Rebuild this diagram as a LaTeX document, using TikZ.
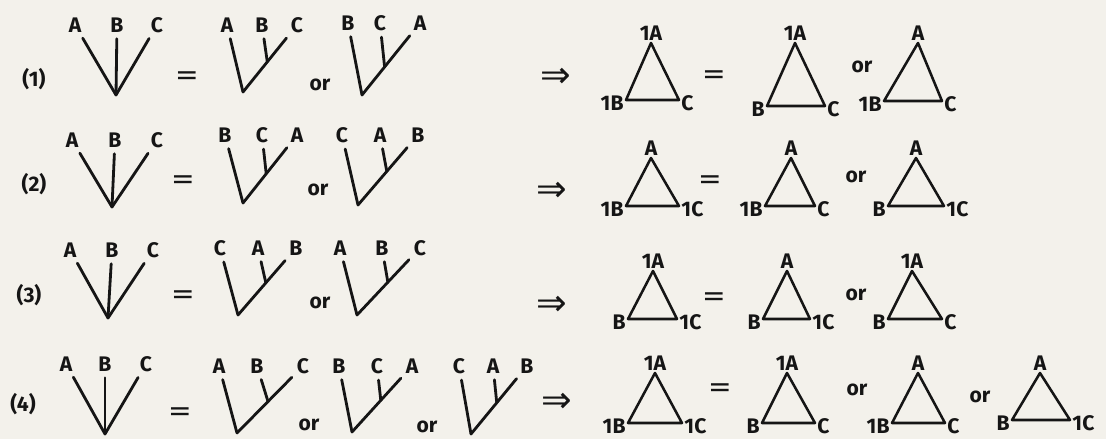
\documentclass[tikz,border=0pt]{standalone}
\usepackage{fontspec}
\setmainfont{Fira Sans}
\newfontfamily\symfont{DejaVu Sans}
\usetikzlibrary{positioning,calc}
\definecolor{paper}{HTML}{F3F1EB}
\definecolor{ink}{HTML}{151515}

\begin{document}
\begin{tikzpicture}[
        x=0.025cm, y=-0.025cm,
        font=\fontsize{15}{17}\selectfont\bfseries,
        color=ink,
        lbl/.style={inner sep=1pt},
        twig/.style={line width=2pt, line cap=round, shorten >=1.2mm},
        tri/.style={line width=1.8pt, line join=round},
        av/.style={lbl, anchor=south, yshift=0.2mm},
        lv/.style={lbl, anchor=east, xshift=-0.2mm, yshift=-0.8mm},
        rv/.style={lbl, anchor=west, xshift=0.2mm, yshift=-0.8mm},
        eq/.style={font=\symfont\fontsize{20}{22}\selectfont},
        impl/.style={font=\symfont\fontsize{26}{28}\selectfont}
    ]
        \path[use as bounding box, fill=paper] (0,0) rectangle (1106,439);

        \node (n1) at (34,79) {(1)};
        \node[lbl] (s1A) at (75,25) {A};
        \node[lbl] (s1B) at (117,25) {B};
        \node[lbl] (s1C) at (157,25) {C};
        \coordinate (s1) at (116,95);
        \draw[twig] (s1) -- (s1A);
        \draw[twig] (s1) -- (s1B);
        \draw[twig] (s1) -- (s1C);
        \node[eq] (e1) at (187,78) {=};
        \node[lbl] (t1aA) at (227,25) {A};
        \node[lbl] (t1aB) at (262,25) {B};
        \node[lbl] (t1aC) at (297,25) {C};
        \coordinate (t1a) at (243,92);
        \coordinate (t1ai) at ($(t1a)!0.45!(t1aC)$);
        \draw[twig] (t1a) -- (t1aA);
        \draw[twig] (t1a) -- (t1aC);
        \draw[twig] (t1ai) -- (t1aB);
        \node (o1a) at (320,85) {or};
        \node[lbl] (t1bB) at (348,23) {B};
        \node[lbl] (t1bC) at (380,23) {C};
        \node[lbl] (t1bA) at (420,23) {A};
        \coordinate (t1b) at (362,95);
        \coordinate (t1bi) at ($(t1b)!0.39!(t1bA)$);
        \draw[twig] (t1b) -- (t1bB);
        \draw[twig] (t1b) -- (t1bA);
        \draw[twig] (t1bi) -- (t1bC);
        \node[impl] (i1) at (556,78) {⇒};
        \coordinate (q1aT) at (651,43);
        \coordinate (q1aL) at (626,100);
        \coordinate (q1aR) at (679,100);
        \draw[tri] (q1aT) -- (q1aL) -- (q1aR) -- cycle;
        \node[av] (q1aA) at (q1aT) {1A};
        \node[lv] (q1aB) at (q1aL) {1B};
        \node[rv] (q1aC) at (q1aR) {C};
        \node[eq] (e1b) at (714,77) {=};
        \coordinate (q1bT) at (795,43);
        \coordinate (q1bL) at (767,106);
        \coordinate (q1bR) at (825,106);
        \draw[tri] (q1bT) -- (q1bL) -- (q1bR) -- cycle;
        \node[av] (q1bA) at (q1bT) {1A};
        \node[lv] (q1bB) at (q1bL) {B};
        \node[rv] (q1bC) at (q1bR) {C};
        \node (o1b) at (862,67) {or};
        \coordinate (q1cT) at (918,43);
        \coordinate (q1cL) at (884,101);
        \coordinate (q1cR) at (942,101);
        \draw[tri] (q1cT) -- (q1cL) -- (q1cR) -- cycle;
        \node[av] (q1cA) at (q1cT) {A};
        \node[lv] (q1cB) at (q1cL) {1B};
        \node[rv] (q1cC) at (q1cR) {C};

        \node (n2) at (34,184) {(2)};
        \node[lbl] (s2A) at (72,140) {A};
        \node[lbl] (s2B) at (115,140) {B};
        \node[lbl] (s2C) at (157,140) {C};
        \coordinate (s2) at (112,207);
        \draw[twig] (s2) -- (s2A);
        \draw[twig] (s2) -- (s2B);
        \draw[twig] (s2) -- (s2C);
        \node[eq] (e2) at (183,182) {=};
        \node[lbl] (t2aB) at (225,135) {B};
        \node[lbl] (t2aC) at (262,135) {C};
        \node[lbl] (t2aA) at (297,135) {A};
        \coordinate (t2a) at (243,203);
        \coordinate (t2ai) at ($(t2a)!0.43!(t2aA)$);
        \draw[twig] (t2a) -- (t2aB);
        \draw[twig] (t2a) -- (t2aA);
        \draw[twig] (t2ai) -- (t2aC);
        \node (o2a) at (318,190) {or};
        \node[lbl] (t2bC) at (342,135) {C};
        \node[lbl] (t2bA) at (380,135) {A};
        \node[lbl] (t2bB) at (418,135) {B};
        \coordinate (t2b) at (358,205);
        \coordinate (t2bi) at ($(t2b)!0.48!(t2bB)$);
        \draw[twig] (t2b) -- (t2bC);
        \draw[twig] (t2b) -- (t2bB);
        \draw[twig] (t2bi) -- (t2bA);
        \node[impl] (i2) at (552,192) {⇒};
        \coordinate (q2aT) at (651,158);
        \coordinate (q2aL) at (626,206);
        \coordinate (q2aR) at (679,206);
        \draw[tri] (q2aT) -- (q2aL) -- (q2aR) -- cycle;
        \node[av] (q2aA) at (q2aT) {A};
        \node[lv] (q2aB) at (q2aL) {1B};
        \node[rv] (q2aC) at (q2aR) {1C};
        \node[eq] (e2b) at (710,182) {=};
        \coordinate (q2bT) at (791,158);
        \coordinate (q2bL) at (765,206);
        \coordinate (q2bR) at (815,206);
        \draw[tri] (q2bT) -- (q2bL) -- (q2bR) -- cycle;
        \node[av] (q2bA) at (q2bT) {A};
        \node[lv] (q2bB) at (q2bL) {1B};
        \node[rv] (q2bC) at (q2bR) {C};
        \node (o2b) at (856,177) {or};
        \coordinate (q2cT) at (916,158);
        \coordinate (q2cL) at (888,206);
        \coordinate (q2cR) at (944,206);
        \draw[tri] (q2cT) -- (q2cL) -- (q2cR) -- cycle;
        \node[av] (q2cA) at (q2cT) {A};
        \node[lv] (q2cB) at (q2cL) {B};
        \node[rv] (q2cC) at (q2cR) {1C};

        \node (n3) at (29,295) {(3)};
        \node[lbl] (s3A) at (70,250) {A};
        \node[lbl] (s3B) at (112,250) {B};
        \node[lbl] (s3C) at (153,250) {C};
        \coordinate (s3) at (108,318);
        \draw[twig] (s3) -- (s3A);
        \draw[twig] (s3) -- (s3B);
        \draw[twig] (s3) -- (s3C);
        \node[eq] (e3) at (183,297) {=};
        \node[lbl] (t3aC) at (220,248) {C};
        \node[lbl] (t3aA) at (258,248) {A};
        \node[lbl] (t3aB) at (296,248) {B};
        \coordinate (t3a) at (238,315);
        \coordinate (t3ai) at ($(t3a)!0.48!(t3aB)$);
        \draw[twig] (t3a) -- (t3aC);
        \draw[twig] (t3a) -- (t3aB);
        \draw[twig] (t3ai) -- (t3aA);
        \node (o3a) at (320,303) {or};
        \node[lbl] (t3bA) at (340,248) {A};
        \node[lbl] (t3bB) at (382,248) {B};
        \node[lbl] (t3bC) at (420,248) {C};
        \coordinate (t3b) at (357,315);
        \coordinate (t3bi) at ($(t3b)!0.49!(t3bC)$);
        \draw[twig] (t3b) -- (t3bA);
        \draw[twig] (t3b) -- (t3bC);
        \draw[twig] (t3bi) -- (t3bB);
        \node[impl] (i3) at (552,306) {⇒};
        \coordinate (q3aT) at (653,271);
        \coordinate (q3aL) at (628,319);
        \coordinate (q3aR) at (677,319);
        \draw[tri] (q3aT) -- (q3aL) -- (q3aR) -- cycle;
        \node[av] (q3aA) at (q3aT) {1A};
        \node[lv] (q3aB) at (q3aL) {B};
        \node[rv] (q3aC) at (q3aR) {1C};
        \node[eq] (e3b) at (714,299) {=};
        \coordinate (q3bT) at (787,271);
        \coordinate (q3bL) at (763,319);
        \coordinate (q3bR) at (810,319);
        \draw[tri] (q3bT) -- (q3bL) -- (q3bR) -- cycle;
        \node[av] (q3bA) at (q3bT) {A};
        \node[lv] (q3bB) at (q3bL) {B};
        \node[rv] (q3bC) at (q3bR) {1C};
        \node (o3b) at (856,295) {or};
        \coordinate (q3cT) at (912,271);
        \coordinate (q3cL) at (888,319);
        \coordinate (q3cR) at (942,319);
        \draw[tri] (q3cT) -- (q3cL) -- (q3cR) -- cycle;
        \node[av] (q3cA) at (q3cT) {1A};
        \node[lv] (q3cB) at (q3cL) {B};
        \node[rv] (q3cC) at (q3cR) {C};

        \node (n4) at (23,404) {(4)};
        \node[lbl] (s4A) at (66,364) {A};
        \node[lbl] (s4B) at (105,364) {B};
        \node[lbl] (s4C) at (146,364) {C};
        \coordinate (s4) at (105,434);
        \draw[twig] (s4) -- (s4A);
        \draw[twig] (s4) -- (s4B);
        \draw[twig] (s4) -- (s4C);
        \node[eq] (e4) at (180,414) {=};
        \node[lbl] (t4aA) at (219,366) {A};
        \node[lbl] (t4aB) at (257,366) {B};
        \node[lbl] (t4aC) at (303,366) {C};
        \coordinate (t4a) at (237,433);
        \coordinate (t4ai) at ($(t4a)!0.47!(t4aC)$);
        \draw[twig] (t4a) -- (t4aA);
        \draw[twig] (t4a) -- (t4aC);
        \draw[twig] (t4ai) -- (t4aB);
        \node (o4a) at (309,425) {or};
        \node[lbl] (t4bB) at (339,366) {B};
        \node[lbl] (t4bC) at (377,366) {C};
        \node[lbl] (t4bA) at (412,366) {A};
        \coordinate (t4b) at (352,432);
        \coordinate (t4bi) at ($(t4b)!0.48!(t4bA)$);
        \draw[twig] (t4b) -- (t4bB);
        \draw[twig] (t4b) -- (t4bA);
        \draw[twig] (t4bi) -- (t4bC);
        \node (o4b) at (427,427) {or};
        \node[lbl] (t4cC) at (459,366) {C};
        \node[lbl] (t4cA) at (493,366) {A};
        \node[lbl] (t4cB) at (527,366) {B};
        \coordinate (t4c) at (471,434);
        \coordinate (t4ci) at ($(t4c)!0.46!(t4cB)$);
        \draw[twig] (t4c) -- (t4cC);
        \draw[twig] (t4c) -- (t4cB);
        \draw[twig] (t4ci) -- (t4cA);
        \node[impl] (i4) at (557,403) {⇒};
        \coordinate (q4aT) at (655,373);
        \coordinate (q4aL) at (628,423);
        \coordinate (q4aR) at (682,423);
        \draw[tri] (q4aT) -- (q4aL) -- (q4aR) -- cycle;
        \node[av] (q4aA) at (q4aT) {1A};
        \node[lv] (q4aB) at (q4aL) {1B};
        \node[rv] (q4aC) at (q4aR) {1C};
        \node[eq] (e4b) at (720,390) {=};
        \coordinate (q4bT) at (787,373);
        \coordinate (q4bL) at (762,423);
        \coordinate (q4bR) at (815,423);
        \draw[tri] (q4bT) -- (q4bL) -- (q4bR) -- cycle;
        \node[av] (q4bA) at (q4bT) {1A};
        \node[lv] (q4bB) at (q4bL) {B};
        \node[rv] (q4bC) at (q4bR) {C};
        \node (o4c) at (857,390) {or};
        \coordinate (q4cT) at (918,373);
        \coordinate (q4cL) at (892,423);
        \coordinate (q4cR) at (945,423);
        \draw[tri] (q4cT) -- (q4cL) -- (q4cR) -- cycle;
        \node[av] (q4cA) at (q4cT) {A};
        \node[lv] (q4cB) at (q4cL) {1B};
        \node[rv] (q4cC) at (q4cR) {C};
        \node (o4d) at (980,397) {or};
        \coordinate (q4dT) at (1040,373);
        \coordinate (q4dL) at (1012,420);
        \coordinate (q4dR) at (1070,420);
        \draw[tri] (q4dT) -- (q4dL) -- (q4dR) -- cycle;
        \node[av] (q4dA) at (q4dT) {A};
        \node[lv] (q4dB) at (q4dL) {B};
        \node[rv] (q4dC) at (q4dR) {1C};
    \end{tikzpicture}
\end{document}
